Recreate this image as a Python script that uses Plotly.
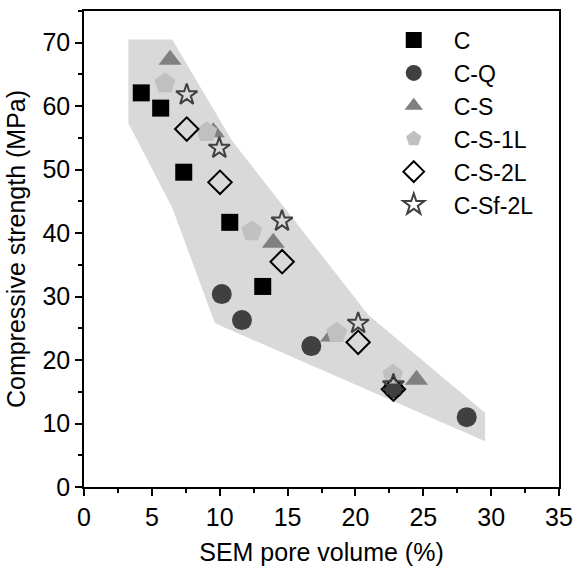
import plotly.graph_objects as go

# Envelope polygon (shaded region)
env_x = [3.27, 6.5, 10.9, 20.95, 29.55, 29.55, 9.65, 6.5, 3.27]
env_y = [70.5, 70.5, 54.6, 27.1, 11.7, 7.2, 25.8, 44.0, 57.3]

c_x = [4.22, 5.65, 7.35, 10.74, 13.17]
c_y = [62.1, 59.7, 49.6, 41.7, 31.6]

cq_x = [10.15, 11.64, 16.75, 22.8, 28.2]
cq_y = [30.4, 26.3, 22.2, 15.5, 11.0]

cs_x = [6.34, 9.53, 13.95, 18.25, 24.5]
cs_y = [67.3, 55.9, 38.5, 23.7, 16.9]

cs1l_x = [5.97, 9.04, 12.36, 18.62, 22.75]
cs1l_y = [63.6, 55.9, 40.3, 24.3, 17.7]

cs2l_x = [7.57, 10.02, 14.6, 20.2, 22.8]
cs2l_y = [56.4, 48.0, 35.5, 22.8, 15.4]

csf2l_x = [7.57, 9.97, 14.59, 20.2, 22.8]
csf2l_y = [61.8, 53.4, 41.9, 25.8, 16.1]

FONT = "Arial, Liberation Sans, sans-serif"
FS = 25

fig = go.Figure()
fig.add_trace(go.Scatter(x=env_x, y=env_y, fill="toself", fillcolor="#d9d9d9",
                         line=dict(width=0, color="#d9d9d9"), mode="lines",
                         showlegend=False, hoverinfo="skip"))

series = [
    ("C", c_x, c_y, dict(symbol="square", size=17, color="#000000")),
    ("C-Q", cq_x, cq_y, dict(symbol="circle", size=20, color="#404040")),
    ("C-S", cs_x, cs_y, dict(symbol="triangle-up", size=20, color="#808080")),
    ("C-S-1L", cs1l_x, cs1l_y, dict(symbol="pentagon", size=22, color="#c0c0c0")),
    ("C-S-2L", cs2l_x, cs2l_y, dict(symbol="diamond-open", size=18, color="#000000",
                                    line=dict(width=2, color="#000000"))),
    ("C-Sf-2L", csf2l_x, csf2l_y, dict(symbol="star-open", size=16, color="#404040",
                                       line=dict(width=2, color="#404040"))),
]
for name, xs, ys, mk in series:
    fig.add_trace(go.Scatter(x=xs, y=ys, mode="markers", name=name, marker=mk))

axis_common = dict(showline=True, linecolor="black", linewidth=1.5, mirror=True,
                   ticks="outside", ticklen=7, tickwidth=1.5, tickcolor="black",
                   showgrid=False, zeroline=False,
                   tickfont=dict(family=FONT, size=FS, color="black"))

fig.update_xaxes(range=[0, 35], dtick=5,
                 minor=dict(ticks="outside", ticklen=4, dtick=2.5, tickcolor="black", tickwidth=1.5),
                 title=dict(text="SEM pore volume (%)", font=dict(family=FONT, size=FS, color="black"),
                            standoff=14),
                 **axis_common)
fig.update_yaxes(range=[0, 75], dtick=10,
                 minor=dict(ticks="outside", ticklen=4, dtick=5, tickcolor="black", tickwidth=1.5),
                 title=dict(text="Compressive strength (MPa)", font=dict(family=FONT, size=FS, color="black"),
                            standoff=10),
                 **axis_common)

fig.update_layout(
    width=574, height=571,
    margin=dict(l=84, r=15, t=11, b=84, autoexpand=False),
    plot_bgcolor="white", paper_bgcolor="white",
    font=dict(family=FONT, size=FS, color="black"),
    legend=dict(x=0.61, y=0.984, xanchor="left", yanchor="top",
                bgcolor="rgba(0,0,0,0)", font=dict(family=FONT, size=23, color="black"),
                itemsizing="trace", itemwidth=70),
)

fig.write_html("out.html")
